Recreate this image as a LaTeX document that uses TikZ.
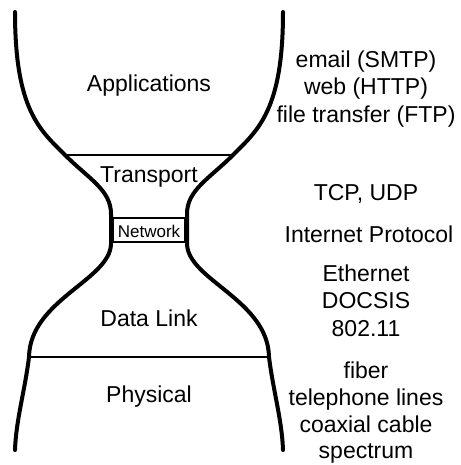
\documentclass[tikz,border=0pt]{standalone}
\usepackage{fontspec}
\setmainfont{Liberation Sans}
\begin{document}
\begin{tikzpicture}[x=1pt,y=-1pt,
  outline/.style={line width=4pt, line cap=round, line join=round},
  divider/.style={line width=2.6pt},
  label/.style={font=\fontsize{23}{27}\selectfont, anchor=base, inner sep=0pt},
  small/.style={font=\fontsize{17}{20}\selectfont, anchor=base, inner sep=0pt}]
\useasboundingbox (0,0) rectangle (460,465);

% one side of the hourglass; the other side is its mirror image
\def\hourglassside{%
  (15,12) .. controls (15,110) and (40,130) .. (65,155)
  .. controls (89,179) and (111,190) .. (111,214)
  -- (111,244)
  .. controls (110,280) and (30,300) .. (29,357)
  .. controls (25,390) and (16,420) .. (15,450)}
\draw[outline] \hourglassside;
\begin{scope}[xshift=298pt, xscale=-1]
  \draw[outline] \hourglassside;
\end{scope}

% layer boundaries
\coordinate (tl) at (65,155);  \coordinate (tr) at (233,155);
\coordinate (dl) at (29,357);  \coordinate (dr) at (269,357);
\draw[divider] (tl) -- (tr);
\draw[divider] (dl) -- (dr);
\draw[line width=2pt] (113,218) rectangle (185,242);

% layer names
\node[label] (app)  at (149,92)  {Applications};
\node[label] (tra)  at (149,182) {Transport};
\node[small] (net)  at (149,237) {Network};
\node[label] (dat)  at (149,326) {Data Link};
\node[label] (phy)  at (149,402) {Physical};

% example protocols and media
\node[label] (a1) at (366,68)  {email (SMTP)};
\node[label] (a2) at (366,95)  {web (HTTP)};
\node[label] (a3) at (366,123) {file transfer (FTP)};
\node[label] (t1) at (366,200) {TCP, UDP};
\node[label] (n1) at (369,242) {Internet Protocol};
\node[label] (d1) at (366,281) {Ethernet};
\node[label] (d2) at (366,308) {DOCSIS};
\node[label] (d3) at (366,336) {802.11};
\node[label] (p1) at (366,378) {fiber};
\node[label] (p2) at (366,405) {telephone lines};
\node[label] (p3) at (366,432) {coaxial cable};
\node[label] (p4) at (366,458) {spectrum};
\end{tikzpicture}
\end{document}
